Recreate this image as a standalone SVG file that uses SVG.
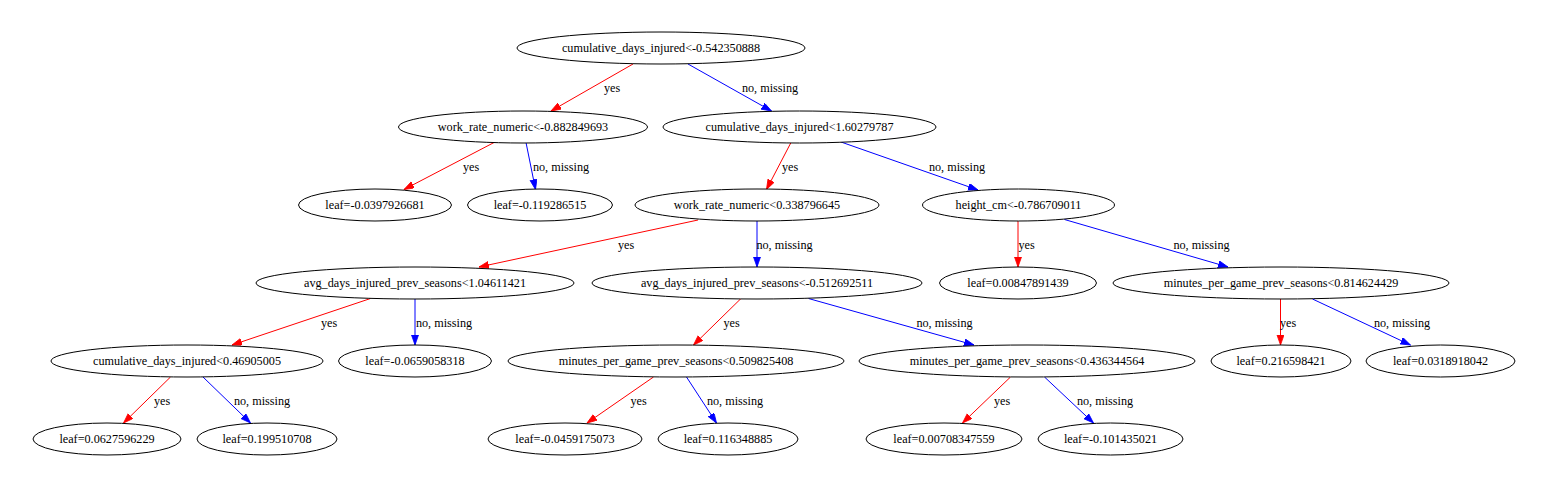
<svg xmlns="http://www.w3.org/2000/svg" width="1548" height="489" viewBox="0 0 1548 489">
<style>
text{font-family:"Liberation Serif","Times New Roman",serif;font-size:12.2px;text-anchor:middle;fill:#000}
.node ellipse{fill:#fff;stroke:#000;stroke-width:1}
.yes{stroke:#ff0000;stroke-width:1;fill:none;marker-end:url(#ar)}
.no{stroke:#0000ff;stroke-width:1;fill:none;marker-end:url(#ab)}
</style>
<defs>
<marker id="ar" markerUnits="userSpaceOnUse" markerWidth="11" markerHeight="8" refX="10" refY="3.5" orient="auto"><path d="M0,0 L10,3.5 L0,7 z" fill="#ff0000" stroke="#ff0000" stroke-width="0.8"/></marker>
<marker id="ab" markerUnits="userSpaceOnUse" markerWidth="11" markerHeight="8" refX="10" refY="3.5" orient="auto"><path d="M0,0 L10,3.5 L0,7 z" fill="#0000ff" stroke="#0000ff" stroke-width="0.8"/></marker>
</defs>
<rect width="1548" height="489" fill="#fff"/>
<g id="edges">
<path class="yes" d="M633,64 L551,111"/><text x="612" y="92">yes</text>
<path class="no" d="M688,64 L771.5,111"/><text x="770" y="92">no, missing</text>
<path class="yes" d="M495,142 L404,189.5"/><text x="471" y="171">yes</text>
<path class="no" d="M526,142.5 L535.5,189.5"/><text x="561" y="171">no, missing</text>
<path class="yes" d="M791,142.5 L766.5,189.5"/><text x="790" y="171">yes</text>
<path class="no" d="M841,142 L978,190"/><text x="957" y="171">no, missing</text>
<path class="yes" d="M698,220 L479,267"/><text x="626" y="249">yes</text>
<path class="no" d="M757,221 L757,267"/><text x="784.5" y="249">no, missing</text>
<path class="yes" d="M1018,221 L1018,267"/><text x="1026.5" y="249">yes</text>
<path class="no" d="M1064.5,219.5 L1228,267"/><text x="1201.5" y="249">no, missing</text>
<path class="yes" d="M370.5,298.5 L232,345"/><text x="329" y="327">yes</text>
<path class="no" d="M415,299 L415,345"/><text x="444" y="327">no, missing</text>
<path class="yes" d="M741,298.5 L693.5,345"/><text x="731.5" y="327">yes</text>
<path class="no" d="M808.5,298.5 L974,345"/><text x="944.5" y="327">no, missing</text>
<path class="yes" d="M1280.5,299 L1280.5,345"/><text x="1288" y="327">yes</text>
<path class="no" d="M1312.5,299 L1410.5,345"/><text x="1402" y="327">no, missing</text>
<path class="yes" d="M170.5,377 L123.5,423"/><text x="162" y="405">yes</text>
<path class="no" d="M203,377 L250.5,423"/><text x="262" y="405">no, missing</text>
<path class="yes" d="M653.5,377 L587,423"/><text x="638.5" y="405">yes</text>
<path class="no" d="M686.5,377 L716.5,423"/><text x="735" y="405">no, missing</text>
<path class="yes" d="M1010.5,377 L962.5,423"/><text x="1002" y="405">yes</text>
<path class="no" d="M1044.5,377 L1093.5,423"/><text x="1105" y="405">no, missing</text>
</g>
<g id="n0" class="node"><ellipse cx="661" cy="48" rx="144" ry="16"/><text x="661" y="52">cumulative_days_injured&lt;-0.542350888</text></g>
<g id="n1" class="node"><ellipse cx="523" cy="127" rx="124.5" ry="16"/><text x="523" y="131">work_rate_numeric&lt;-0.882849693</text></g>
<g id="n2" class="node"><ellipse cx="799.5" cy="127" rx="136.5" ry="16"/><text x="799.5" y="131">cumulative_days_injured&lt;1.60279787</text></g>
<g id="n3" class="node"><ellipse cx="375" cy="205" rx="76.5" ry="16"/><text x="375" y="209">leaf=-0.0397926681</text></g>
<g id="n4" class="node"><ellipse cx="540" cy="205" rx="72.5" ry="16"/><text x="540" y="209">leaf=-0.119286515</text></g>
<g id="n5" class="node"><ellipse cx="757" cy="205" rx="122" ry="16"/><text x="757" y="209">work_rate_numeric&lt;0.338796645</text></g>
<g id="n6" class="node"><ellipse cx="1018.5" cy="205" rx="96" ry="16"/><text x="1018.5" y="209">height_cm&lt;-0.786709011</text></g>
<g id="n7" class="node"><ellipse cx="415" cy="283" rx="159" ry="16"/><text x="415" y="287">avg_days_injured_prev_seasons&lt;1.04611421</text></g>
<g id="n8" class="node"><ellipse cx="757" cy="283" rx="165" ry="16"/><text x="757" y="287">avg_days_injured_prev_seasons&lt;-0.512692511</text></g>
<g id="n9" class="node"><ellipse cx="1018" cy="283" rx="78.5" ry="16"/><text x="1018" y="287">leaf=0.00847891439</text></g>
<g id="n10" class="node"><ellipse cx="1281" cy="283" rx="168" ry="16"/><text x="1281" y="287">minutes_per_game_prev_seasons&lt;0.814624429</text></g>
<g id="n11" class="node"><ellipse cx="187" cy="361" rx="136" ry="16"/><text x="187" y="365">cumulative_days_injured&lt;0.46905005</text></g>
<g id="n12" class="node"><ellipse cx="415" cy="361" rx="76.5" ry="16"/><text x="415" y="365">leaf=-0.0659058318</text></g>
<g id="n13" class="node"><ellipse cx="676" cy="361" rx="168" ry="16"/><text x="676" y="365">minutes_per_game_prev_seasons&lt;0.509825408</text></g>
<g id="n14" class="node"><ellipse cx="1027" cy="361" rx="168" ry="16"/><text x="1027" y="365">minutes_per_game_prev_seasons&lt;0.436344564</text></g>
<g id="n15" class="node"><ellipse cx="1281" cy="361" rx="70" ry="16"/><text x="1281" y="365">leaf=0.216598421</text></g>
<g id="n16" class="node"><ellipse cx="1440.5" cy="361" rx="74.5" ry="16"/><text x="1440.5" y="365">leaf=0.0318918042</text></g>
<g id="n17" class="node"><ellipse cx="107" cy="439" rx="74" ry="16"/><text x="107" y="443">leaf=0.0627596229</text></g>
<g id="n18" class="node"><ellipse cx="267" cy="439" rx="70" ry="16"/><text x="267" y="443">leaf=0.199510708</text></g>
<g id="n19" class="node"><ellipse cx="565" cy="439" rx="77" ry="16"/><text x="565" y="443">leaf=-0.0459175073</text></g>
<g id="n20" class="node"><ellipse cx="728" cy="439" rx="70" ry="16"/><text x="728" y="443">leaf=0.116348885</text></g>
<g id="n21" class="node"><ellipse cx="944" cy="439" rx="78" ry="16"/><text x="944" y="443">leaf=0.00708347559</text></g>
<g id="n22" class="node"><ellipse cx="1110.5" cy="439" rx="72.5" ry="16"/><text x="1110.5" y="443">leaf=-0.101435021</text></g>
</svg>
